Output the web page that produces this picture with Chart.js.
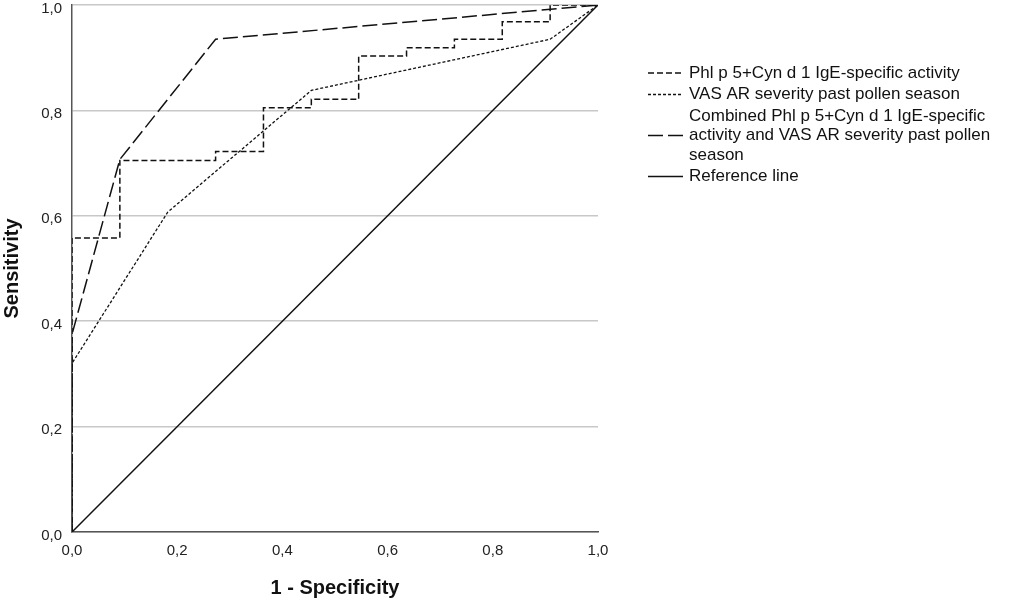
<!DOCTYPE html>
<html>
<head>
<meta charset="utf-8">
<script src="https://cdn.jsdelivr.net/npm/chart.js@4.4.1/dist/chart.umd.min.js"></script>
<style>
  html, body { margin: 0; padding: 0; background: #fff; }
  #wrap { width: 1013px; height: 609px; }
</style>
</head>
<body>
<div id="wrap"><canvas id="rocChart"></canvas></div>
<script>
// ROC points (x = 1 - specificity, y = sensitivity)
const phlFpr = [0, 0, 0.091, 0.273, 0.364, 0.455, 0.545, 0.636, 0.727, 0.818, 0.909, 1.0];
const phlTpr = [0, 0.558, 0.705, 0.722, 0.805, 0.821, 0.903, 0.919, 0.935, 0.968, 1.0, 1.0];

const vasFpr = [0, 0, 0.182, 0.455, 0.909, 1.0];
const vasTpr = [0, 0.32, 0.607, 0.838, 0.935, 1.0];

const combFpr = [0, 0, 0.091, 0.273, 1.0];
const combTpr = [0, 0.375, 0.707, 0.935, 1.0];

const refFpr = [0, 1];
const refTpr = [0, 1];

const seriesLabels = [
    ['Phl p 5+Cyn d 1 IgE-specific activity'],
    ['VAS AR severity past pollen season'],
    ['Combined Phl p 5+Cyn d 1 IgE-specific', 'activity and VAS AR severity past pollen', 'season'],
    ['Reference line']
];
const axisTicks = [0, 0.2, 0.4, 0.6, 0.8, 1.0];

const toPoints = (xs, ys) => xs.map((x, i) => ({ x: x, y: ys[i] }));
const fmt = v => v.toFixed(1).replace('.', ',');

Chart.defaults.font.family = '"Liberation Sans", Arial, sans-serif';
Chart.defaults.color = '#222';

// legend on the right, with wrapped label for the combined model
const sideLegend = {
    id: 'sideLegend',
    afterDraw(chart) {
        const ctx = chart.ctx;
        const x0 = 648, x1 = 683, tx = 689;
        const lineH = 19.5, gap = 2;
        let y = 73;
        ctx.save();
        ctx.font = '17px "Liberation Sans", Arial, sans-serif';
        ctx.fillStyle = '#111';
        ctx.textBaseline = 'middle';
        chart.data.datasets.forEach((ds, i) => {
            const lines = seriesLabels[i];
            const mid = y + (lines.length - 1) * lineH / 2;
            ctx.beginPath();
            ctx.strokeStyle = ds.borderColor;
            ctx.lineWidth = ds.borderWidth;
            ctx.setLineDash(ds.borderDash || []);
            ctx.moveTo(x0, mid);
            ctx.lineTo(x1, mid);
            ctx.stroke();
            ctx.setLineDash([]);
            lines.forEach((t, j) => ctx.fillText(t, tx, y + j * lineH));
            y += lines.length * lineH + gap;
        });
        ctx.restore();
    }
};

const ctxRoc = document.getElementById('rocChart').getContext('2d');
const rocChart = new Chart(ctxRoc, {
    type: 'line',
    data: {
        datasets: [{
            label: seriesLabels[0].join(' '),
            data: toPoints(phlFpr, phlTpr),
            stepped: 'before',
            borderColor: '#111',
            borderWidth: 1.5,
            borderDash: [6, 3]
        }, {
            label: seriesLabels[1].join(' '),
            data: toPoints(vasFpr, vasTpr),
            borderColor: '#111',
            borderWidth: 1.3,
            borderDash: [3, 2]
        }, {
            label: seriesLabels[2].join(' '),
            data: toPoints(combFpr, combTpr),
            borderColor: '#111',
            borderWidth: 1.5,
            borderDash: [15, 5]
        }, {
            label: seriesLabels[3].join(' '),
            data: toPoints(refFpr, refTpr),
            borderColor: '#111',
            borderWidth: 1.5
        }]
    },
    options: {
        responsive: true,
        maintainAspectRatio: false,
        animation: false,
        elements: { point: { radius: 0 } },
        layout: { padding: { top: 5, right: 415, left: 0, bottom: 0 } },
        plugins: {
            legend: { display: false },
            tooltip: { enabled: false }
        },
        scales: {
            x: {
                type: 'linear',
                min: 0,
                max: 1,
                afterBuildTicks: s => { s.ticks = axisTicks.map(v => ({ value: v })); },
                afterFit: s => { s.height = 77; },
                grid: { display: false, drawTicks: false },
                border: { color: '#555', width: 1.5 },
                ticks: {
                    callback: v => fmt(v),
                    font: { size: 15 },
                    color: '#222',
                    padding: 10,
                    maxRotation: 0
                },
                title: {
                    display: true,
                    text: '1 - Specificity',
                    font: { size: 20, weight: 'bold' },
                    color: '#111',
                    padding: { top: 0, bottom: 9 }
                }
            },
            y: {
                type: 'linear',
                min: 0,
                max: 1,
                afterBuildTicks: s => { s.ticks = axisTicks.map(v => ({ value: v })); },
                afterFit: s => { s.width = 72; s.paddingTop = 0; s.paddingBottom = 0; },
                grid: { color: '#c8c8c8', lineWidth: 1.5, drawTicks: false },
                border: { color: '#555', width: 1.5 },
                ticks: {
                    callback: v => fmt(v),
                    font: { size: 15 },
                    color: '#222',
                    padding: 10,
                    labelOffset: 3.5
                },
                title: {
                    display: true,
                    text: 'Sensitivity',
                    font: { size: 20, weight: 'bold' },
                    color: '#111',
                    padding: { top: 0, bottom: 4 }
                }
            }
        }
    },
    plugins: [sideLegend]
});
</script>
</body>
</html>
